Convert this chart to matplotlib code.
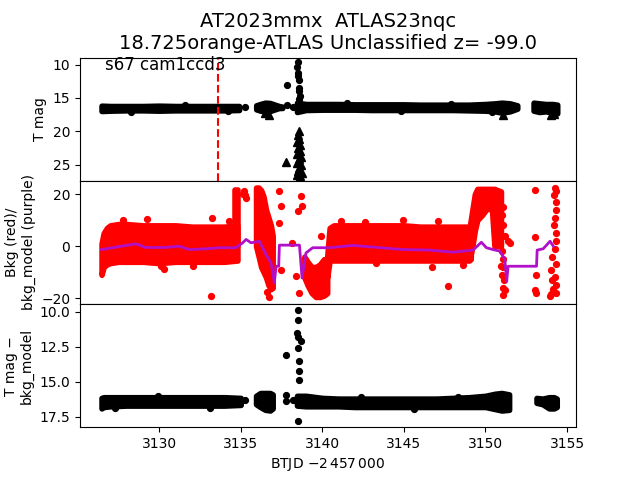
import matplotlib
matplotlib.use('Agg')
import matplotlib.pyplot as plt

# ---------------- T mag panel ----------------
# dense bands: time, lower and upper edge of the cloud of points
tm_a_t = [3126.47, 3127.0, 3128.0, 3129.0, 3130.0, 3131.0, 3132.0, 3133.0, 3134.0, 3134.9]
tm_a_lo = [16.15, 16.2, 16.2, 16.2, 16.15, 16.2, 16.2, 16.2, 16.2, 16.2]
tm_a_hi = [16.95, 16.9, 16.85, 16.85, 16.9, 16.85, 16.85, 16.85, 16.85, 16.8]

tm_b_t = [3135.95, 3136.2, 3136.5, 3136.8, 3137.1, 3137.35, 3137.55]
tm_b_lo = [16.1, 15.9, 15.7, 15.75, 16.0, 16.2, 16.3]
tm_b_hi = [16.7, 16.9, 17.0, 16.95, 16.7, 16.5, 16.5]

tm_c_t = [3138.45, 3139.0, 3140.0, 3141.0, 3142.0, 3143.0, 3144.0, 3145.0, 3146.0,
          3147.0, 3148.0, 3149.0, 3150.0, 3150.6, 3151.0, 3151.5, 3151.95]
tm_c_lo = [15.7, 15.9, 15.9, 15.9, 15.95, 15.95, 15.95, 15.95, 16.0,
           16.0, 16.0, 16.0, 15.9, 15.8, 15.7, 15.8, 16.1]
tm_c_hi = [17.1, 16.8, 16.75, 16.75, 16.75, 16.8, 16.8, 16.8, 16.8,
           16.8, 16.8, 16.85, 16.9, 17.0, 17.2, 17.0, 16.6]

tm_d_t = [3152.95, 3153.3, 3153.7, 3154.1, 3154.4]
tm_d_lo = [15.7, 15.8, 15.9, 15.9, 16.0]
tm_d_hi = [16.9, 17.1, 17.0, 17.2, 17.3]

# isolated detections
tm_pts_t = [3135.25, 3137.82, 3138.19, 3138.49, 3138.47, 3138.52, 3138.5, 3138.55,
            3138.6, 3138.6, 3138.62, 3138.58, 3137.82,
            3128.3, 3131.6, 3134.2, 3141.5, 3144.8, 3147.9, 3150.4]
tm_pts_mag = [16.3, 16.0, 16.3, 9.6, 10.3, 11.25, 11.75, 12.25,
              13.5, 14.0, 14.75, 15.2, 13.0,
              17.05, 16.05, 17.0, 15.8, 16.95, 15.85, 17.05]

# upper limits (triangles)
lim_t = [3138.55, 3138.5, 3138.6, 3138.48, 3138.62, 3138.5, 3138.66, 3138.45, 3138.7,
         3138.55, 3138.48, 3138.72, 3138.6, 3138.5, 3138.75, 3138.62, 3138.45,
         3137.8, 3136.5, 3136.75, 3151.1, 3154.0, 3154.2]
lim_mag = [20.0, 20.6, 21.1, 21.6, 22.0, 22.5, 23.0, 23.4, 23.8,
           24.2, 24.7, 25.1, 25.5, 25.9, 26.3, 26.7, 26.5,
           24.6, 17.3, 17.6, 17.6, 17.6, 17.4]

disc_t = 3133.62

# ---------------- background panel ----------------
bk_a_t = [3126.47, 3126.6, 3126.8, 3127.0, 3127.5, 3128.0, 3129.0, 3130.0,
          3131.0, 3132.0, 3133.0, 3134.0, 3134.8]
bk_a_lo = [-11, -8, -7, -6.5, -6, -6, -6, -6.5, -6, -6, -6, -6, -5.5]
bk_a_hi = [1, 5, 7, 8, 8.5, 8.5, 8, 8, 8, 7.5, 7.5, 7.5, 8]

bk_col_t = [3134.68, 3134.82]
bk_col_lo = [0, 0]
bk_col_hi = [21.5, 21.5]

bk_b_t = [3135.94, 3136.1, 3136.25, 3136.4, 3136.55, 3136.7, 3136.85, 3136.96]
bk_b_lo = [0, -4, -8, -10, -12, -15, -16.5, -16]
bk_b_hi = [22.5, 22.5, 21.5, 19, 14, 11, 8, 4]

bk_c_t = [3138.9, 3139.1, 3139.35, 3139.6, 3139.85, 3140.1, 3140.3]
bk_c_lo = [-12, -15, -18, -19.5, -19.5, -19, -18]
bk_c_hi = [-4, -6, -8, -8, -7, -5, -5]

bk_d_t = [3140.3, 3140.45, 3140.7, 3141, 3142, 3143, 3144, 3145, 3146, 3147, 3148, 3149, 3149.1]
bk_d_lo = [-12, -5.5, -5.5, -5.5, -5.5, -5.5, -5.5, -5.5, -5.5, -5.5, -5.5, -5.5, -5]
bk_d_hi = [-4, 7, 8, 8, 8, 8, 8, 8, 7.5, 7.5, 7.5, 7.5, 8]

bk_e_t = [3149.05, 3149.2, 3149.35, 3149.5, 3149.8, 3150.1, 3150.4, 3150.55, 3150.95]
bk_e_lo = [-5, 0, 6, 10, 12, 14.5, 14, 0, 0]
bk_e_hi = [8, 14, 20, 22, 22, 22, 22, 22, 21]

bk_pts_t = [3135.2, 3135.25, 3135.3, 3135.15,
            3137.37, 3137.47, 3137.37, 3137.47, 3136.76, 3136.6,
            3138.17, 3138.7, 3138.75, 3138.49, 3138.4, 3138.6, 3133.15, 3139.93,
            3151.0, 3151.05, 3151.1, 3151.0, 3151.15, 3151.05, 3151.1, 3151.2,
            3150.98, 3151.39, 3151.5, 3151.2, 3151.1, 3151.0, 3151.05,
            3153.03, 3153.03, 3153.1, 3153.1, 3153.05,
            3154.25, 3154.3, 3154.2, 3154.35, 3154.3, 3154.25, 3154.2, 3154.35, 3154.3,
            3154.25, 3154.1, 3154.3, 3154.0, 3154.25, 3154.05, 3154.35, 3154.15, 3154.3,
            3154.0, 3153.95,
            3129.27, 3133.26, 3130.3, 3130.1, 3127.8, 3132.1, 3134.3,
            3141.16, 3143.3, 3144.95, 3147.1, 3146.7, 3147.7, 3142.6, 3148.6]
bk_pts_v = [21.0, 19.5, 18.5, 20.2,
            21.2, 15.4, 9.0, -9.0, -19.5, -17.5,
            1.4, 19.2, 15.4, 13.5, -11.5, -17.9, -19.2, 3.8,
            -2, -5, -8, -11, -13, -16, -18.6, -17,
            -7.7, 1.9, 1.3, 4, 8, 12, 15,
            21.5, 3.5, -11, -18, -17,
            22.5, 21, 19.5, 17, 14, 11, 8, 5, 2,
            -1, -4, -7, -9, -12, -13, -15, -16.5, -18,
            -18.5, -19,
            10.3, 11.0, -8.6, -7.7, 10.0, -7.8, 9.6,
            9.6, -6.3, 9.9, 9.6, -7.9, -15.4, 9.4, -7.4]

model_t = [3126.47, 3127.13, 3128.57, 3129.18, 3130.4, 3131.23, 3131.84, 3132.87,
           3133.69, 3134.71, 3135.12, 3135.33, 3135.63, 3136.14, 3136.55, 3136.86,
           3137.06, 3137.17, 3137.33, 3137.37, 3138.6, 3138.76, 3139.0, 3139.41,
           3140.44, 3141.87, 3144.94, 3146.58, 3148.0, 3149.24, 3149.75, 3150.06,
           3150.47, 3150.88, 3151.19, 3151.3, 3151.39, 3153.13, 3153.17, 3153.54,
           3153.96, 3154.16]
model_v = [-1.3, -0.6, 0.9, -0.5, -0.5, 0.0, -1.3, -1.0,
           -0.6, -0.6, 1.3, 2.6, 1.3, 1.9, -3.2, -6.4,
           -14.1, -7.7, -7.7, 0.4, 0.4, -12.2, -2.6, -0.6,
           -0.6, 0.3, -1.3, -1.5, -2.3, -1.5, 1.5, -0.6,
           -1.3, -1.9, -5.1, -13.5, -7.7, -7.7, -1.5, -1.0,
           1.9, 0.0]

# ---------------- T mag - bkg_model panel ----------------
df_a_t = [3126.47, 3126.6, 3127.0, 3128.0, 3129.0, 3130.0, 3131.0, 3132.0, 3133.0, 3134.0, 3135.0]
df_a_lo = [16.15, 16.1, 16.1, 16.1, 16.1, 16.1, 16.1, 16.1, 16.1, 16.1, 16.15]
df_a_hi = [16.9, 16.8, 16.75, 16.7, 16.7, 16.7, 16.7, 16.7, 16.7, 16.7, 16.65]

df_b_t = [3135.94, 3136.2, 3136.5, 3136.8, 3136.96]
df_b_lo = [16.0, 15.8, 15.8, 15.8, 15.9]
df_b_hi = [16.6, 16.8, 17.0, 17.05, 16.9]

df_c_t = [3138.45, 3139.0, 3140.0, 3141.0, 3142.0, 3143.0, 3144.0, 3145.0,
          3146.0, 3147.0, 3148.0, 3149.0, 3150.0, 3150.6, 3151.0, 3151.45]
df_c_lo = [16.0, 16.0, 16.15, 16.2, 16.2, 16.2, 16.2, 16.2,
           16.2, 16.2, 16.15, 16.1, 16.0, 15.85, 15.8, 15.9]
df_c_hi = [16.7, 16.75, 16.75, 16.75, 16.8, 16.8, 16.8, 16.8,
           16.8, 16.8, 16.8, 16.8, 16.8, 16.95, 17.05, 17.0]

df_d_t = [3153.13, 3153.5, 3153.9, 3154.2, 3154.37]
df_d_lo = [16.15, 16.2, 16.1, 16.1, 16.2]
df_d_hi = [16.5, 16.6, 16.9, 16.9, 16.8]

df_pts_t = [3135.25, 3137.78, 3138.49, 3138.49, 3138.42, 3138.52, 3138.7, 3138.49, 3138.6,
            3138.6, 3138.6, 3138.49, 3137.78, 3137.78, 3138.2, 3138.3,
            3127.3, 3129.9, 3133.1, 3142.4, 3145.6, 3148.3]
df_pts_v = [16.3, 13.1, 9.9, 10.6, 11.5, 11.8, 12.1, 12.6, 13.5,
            14.2, 14.9, 17.8, 15.95, 16.4, 16.3, 16.3,
            16.85, 16.0, 16.85, 16.1, 16.95, 16.05]

MS = 4.2
EDGE = 4


def band(ax, t, lo, hi, color):
    ax.fill_between(t, lo, hi, facecolor=color, edgecolor=color,
                    linewidth=EDGE, joinstyle='round')


fig, axes = plt.subplots(3, 1, sharex=True, figsize=(6.4, 4.8))
fig.subplots_adjust(hspace=0)
ax1, ax2, ax3 = axes

# top panel
for t, lo, hi in [(tm_a_t, tm_a_lo, tm_a_hi), (tm_b_t, tm_b_lo, tm_b_hi),
                  (tm_c_t, tm_c_lo, tm_c_hi), (tm_d_t, tm_d_lo, tm_d_hi)]:
    band(ax1, t, lo, hi, 'k')
ax1.plot(tm_pts_t, tm_pts_mag, 'o', color='k', ms=MS)
ax1.plot(lim_t, lim_mag, '^', color='k', ms=6)
ax1.axvline(disc_t, color='r', ls='--', lw=1.5)
ax1.set_ylim(27.4, 8.95)
ax1.set_ylabel('T mag')
ax1.text(0.05, 0.9, 's67 cam1ccd3', transform=ax1.transAxes, fontsize=12)
ax1.set_title('AT2023mmx  ATLAS23nqc\n18.725orange-ATLAS Unclassified z= -99.0',
              fontsize=14)

# middle panel
for t, lo, hi in [(bk_a_t, bk_a_lo, bk_a_hi), (bk_col_t, bk_col_lo, bk_col_hi),
                  (bk_b_t, bk_b_lo, bk_b_hi), (bk_c_t, bk_c_lo, bk_c_hi),
                  (bk_d_t, bk_d_lo, bk_d_hi), (bk_e_t, bk_e_lo, bk_e_hi)]:
    band(ax2, t, lo, hi, 'r')
ax2.plot(bk_pts_t, bk_pts_v, 'o', color='r', ms=MS)
ax2.plot(model_t, model_v, '-', color='#b010c8', lw=2)
ax2.set_ylim(-22.2, 25.1)
ax2.set_ylabel('Bkg (red)/\nbkg_model (purple)')

# bottom panel
for t, lo, hi in [(df_a_t, df_a_lo, df_a_hi), (df_b_t, df_b_lo, df_b_hi),
                  (df_c_t, df_c_lo, df_c_hi), (df_d_t, df_d_lo, df_d_hi)]:
    band(ax3, t, lo, hi, 'k')
ax3.plot(df_pts_t, df_pts_v, 'o', color='k', ms=MS)
ax3.set_ylim(18.24, 9.45)
ax3.set_ylabel('T mag \u2212\nbkg_model')
ax3.set_xlabel(r'BTJD $-2\,457\,000$')
ax3.set_xlim(3125.15, 3155.55)

fig.savefig('out.png', dpi=100)
